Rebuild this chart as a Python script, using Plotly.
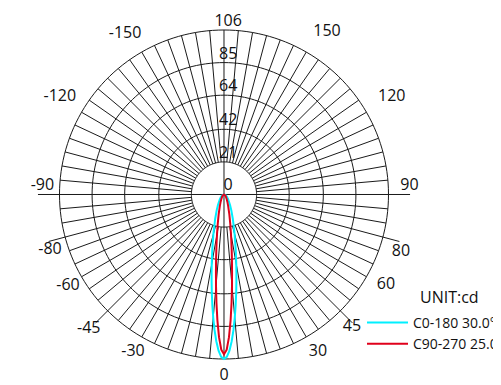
import plotly.graph_objects as go

# ---------------- data ----------------
RING_VALUES = [21, 42, 64, 85, 106]
RING_LABELS = ["21", "42", "64", "85", "106"]

# angular tick labels and where they sit
ANG_LABELS = ["0", "30", "45", "60", "80", "90", "120", "150",
              "-150", "-120", "-90", "-80", "-60", "-45", "-30"]
ANG_LABEL_THETA = [0, 30.8, 44.0, 60.8, 71.1, 90, 122.3, 146.3,
                   213, 236.6, 270, 287.7, 300.4, 313.2, 330]
ANG_LABEL_R = [116.9, 118.2, 118.7, 119.6, 114.3, 119.5, 117.4, 119.6,
               117.1, 114.1, 117, 117.7, 116.5, 119.5, 117.2]
ANG_LABEL_POS = ["middle center", "middle center", "middle center", "middle center",
                 "middle right", "top center", "middle right", "top center",
                 "top center", "middle left", "top center", "middle center",
                 "middle center", "bottom center", "middle center"]
LONG_TICKS = [45, 75, 285, 315]

# intensity curves (cd), one half of each symmetric plane
CURVE_THETA = [0, 1, 2, 3, 4, 5, 6, 7, 8, 9, 10, 12, 15, 20, 25, 30, 40, 50, 60, 70, 80, 90]
C0_180 = [106.0, 104.6, 100.7, 94.7, 87.5, 79.6, 71.8, 64.3, 57.3, 51.1, 45.5, 36.3,
          26.4, 16.6, 11.1, 7.8, 4.3, 2.6, 1.6, 0.9, 0.4, 0]
C90_270 = [103.0, 100.0, 92.0, 81.2, 69.8, 59.1, 49.7, 41.9, 35.4, 30.1, 25.8, 19.4,
           13.3, 7.8, 5.1, 3.5, 1.9, 1.1, 0.7, 0.4, 0.2, 0]
SERIES_NAMES = ["C0-180 30.0°", "C90-270 25.0°"]
UNIT_TEXT = "UNIT:cd"

# ---------------- styles ----------------
FONT = "Open Sans"
GRID = "#1a1a1a"
CYAN = "#00F0FF"
RED = "#E0001B"
R_MAX = 120.1

fig = go.Figure()

# rings
ring_r, ring_t = [], []
for v in RING_VALUES:
    for a in range(0, 362, 2):
        ring_r.append(v)
        ring_t.append(a)
    ring_r.append(None)
    ring_t.append(None)
fig.add_trace(go.Scatterpolar(r=ring_r, theta=ring_t, mode="lines",
                              line=dict(color=GRID, width=1), showlegend=False,
                              hoverinfo="skip"))

# spokes every 5 degrees (from inner ring outwards)
sp_r, sp_t = [], []
inner = RING_VALUES[0]
outer = RING_VALUES[-1]
for a in range(0, 360, 5):
    if a % 90 == 0:
        continue
    end = 117 if a in LONG_TICKS else outer
    sp_r += [inner, end, None]
    sp_t += [a, a, None]
fig.add_trace(go.Scatterpolar(r=sp_r, theta=sp_t, mode="lines",
                              line=dict(color=GRID, width=1), showlegend=False,
                              hoverinfo="skip"))

# main axes through the centre
fig.add_trace(go.Scatterpolar(r=[outer, 0, outer, None, 120, 0, 120],
                              theta=[180, 180, 0, None, 270, 270, 90],
                              mode="lines", line=dict(color=GRID, width=1),
                              showlegend=False, hoverinfo="skip"))

# curves (mirror each half plane)
def full(vals):
    t = [-x for x in reversed(CURVE_THETA)] + CURVE_THETA[1:]
    r = list(reversed(vals)) + vals[1:]
    return t, r

t0, r0 = full(C0_180)
t1, r1 = full(C90_270)
fig.add_trace(go.Scatterpolar(r=r0, theta=t0, mode="lines", name=SERIES_NAMES[0],
                              line=dict(color=CYAN, width=2)))
fig.add_trace(go.Scatterpolar(r=r1, theta=t1, mode="lines", name=SERIES_NAMES[1],
                              line=dict(color=RED, width=2)))

# radial labels on the vertical axis
fig.add_trace(go.Scatterpolar(r=[0] + RING_VALUES, theta=[180] * (len(RING_VALUES) + 1),
                              mode="text",
                              text=["\u00a0\u00a0" + s for s in ["0"] + RING_LABELS],
                              textposition="top center",
                              textfont=dict(family=FONT, size=16, color="#111"),
                              showlegend=False, hoverinfo="skip", cliponaxis=False))

# angular labels
fig.add_trace(go.Scatterpolar(r=ANG_LABEL_R, theta=ANG_LABEL_THETA, mode="text",
                              text=ANG_LABELS, textposition=ANG_LABEL_POS,
                              textfont=dict(family=FONT, size=16, color="#111"),
                              showlegend=False, hoverinfo="skip", cliponaxis=False))

# page body has an 8px margin, so the figure is laid out 8px smaller
OFF = 8
W, H = 501 - OFF, 385 - OFF
cx, cy = 224 - OFF, 194.5 - OFF
px_per_unit = 164.5 / 106
R_px = R_MAX * px_per_unit


def px(x):
    return (x - OFF) / W


def py(y):
    return (H - (y - OFF)) / H


fig.update_layout(
    width=W, height=H,
    margin=dict(l=0, r=0, t=0, b=0, autoexpand=False),
    paper_bgcolor="white",
    font=dict(family=FONT, size=15, color="#111"),
    polar=dict(
        domain=dict(x=[(cx - R_px) / W, (cx + R_px) / W],
                    y=[max(0, (H - cy - R_px) / H), min(1, (H - cy + R_px) / H)]),
        bgcolor="rgba(0,0,0,0)",
        radialaxis=dict(visible=False, range=[0, R_MAX]),
        angularaxis=dict(visible=False, rotation=-90, direction="counterclockwise"),
    ),
    legend=dict(x=px(362), y=py(307), xanchor="left", yanchor="top",
                bgcolor="rgba(0,0,0,0)", itemwidth=41,
                font=dict(family=FONT, size=14, color="#111")),
    showlegend=True,
    annotations=[dict(text=UNIT_TEXT, x=px(418), y=py(297), xref="paper",
                      yref="paper", xanchor="left", yanchor="middle", showarrow=False,
                      font=dict(family=FONT, size=16, color="#111"))],
)

fig.write_html("out.html")
